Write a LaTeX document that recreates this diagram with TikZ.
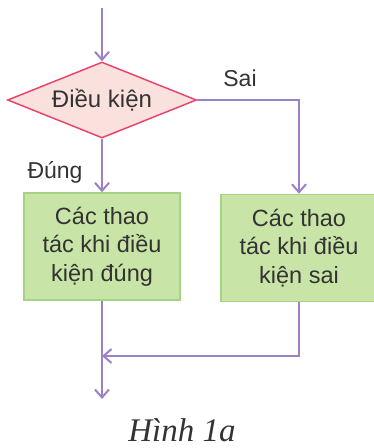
\documentclass[tikz,border=0pt]{standalone}
\usepackage{fontspec}
\setmainfont{Liberation Sans}
\newfontfamily\capfont{Liberation Serif}
\usetikzlibrary{shapes.geometric,arrows.meta}
\definecolor{flowline}{HTML}{9C80C8}
\definecolor{condfill}{HTML}{FAE1DD}
\definecolor{conddraw}{HTML}{E8456E}
\definecolor{boxfill}{HTML}{C8E4A6}
\definecolor{boxdraw}{HTML}{A3D483}
\definecolor{txt}{HTML}{333333}
\tikzset{
  flow/.style={draw=flowline, line width=2pt, -{Straight Barb[length=8pt,width=14pt,line width=2pt]}},
  actbox/.style={draw=boxdraw, fill=boxfill, line width=1.5pt, minimum width=156pt, minimum height=107pt, align=center, text=txt, font=\fontsize{23.5}{28.5}\selectfont, inner sep=0pt},
  lbl/.style={text=txt, font=\fontsize{23}{26}\selectfont, inner sep=0pt}
}
\begin{document}
\begin{tikzpicture}[x=1pt,y=-1pt]
\useasboundingbox (0,0) rectangle (374,448);
\coordinate (start) at (102,8);
\node[draw=conddraw, fill=condfill, line width=1.5pt, diamond, aspect=2.5, minimum width=189pt, minimum height=76pt, inner sep=0pt, text=txt, font=\fontsize{24}{26}\selectfont] (cond) at (102,100) {Điều kiện};
\node[actbox] (yes) at (102,246.5) {Các thao\\tác khi điều\\kiện đúng};
\node[actbox] (no) at (299,248) {Các thao\\tác khi điều\\kiện sai};
\node[lbl] (sai) at (240,78) {Sai};
\node[lbl] (dung) at (55,172) {Đúng};
\coordinate (join) at (102,356);
\coordinate (end) at (102,399);
\draw[flow] (start) -- (cond.north);
\draw[flow] (cond.south) -- (yes.north);
\draw[flow] (cond.east) -| (no.north);
\draw[flow] (no.south) |- (join);
\draw[flow] (yes.south) -- (end);
\node[text=txt, font=\capfont\itshape\fontsize{33}{36}\selectfont, inner sep=0pt] (cap) at (182,430) {Hình 1a};
\end{tikzpicture}
\end{document}
